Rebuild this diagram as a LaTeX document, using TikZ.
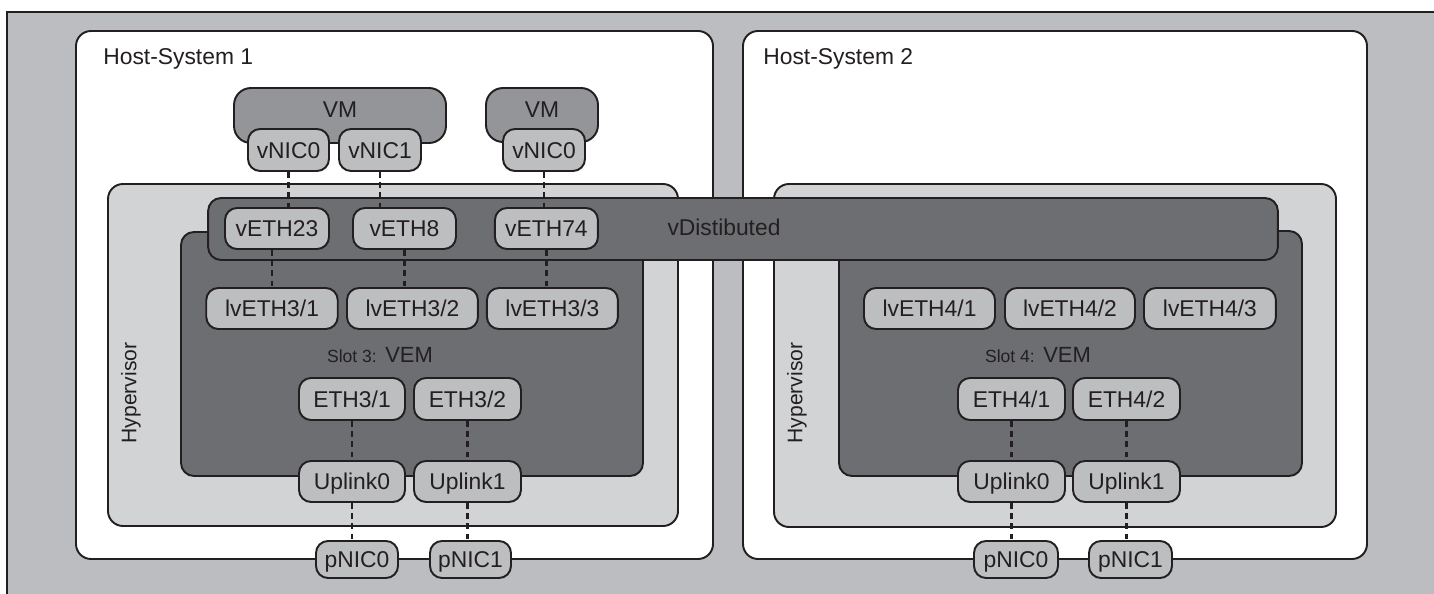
\documentclass[tikz,border=0pt]{standalone}
\usepackage{fontspec}
\setmainfont{Liberation Sans}
\usetikzlibrary{shapes,arrows}
\definecolor{framegray}{HTML}{BCBDC0}
\definecolor{hypgray}{HTML}{D1D3D4}
\definecolor{vemgray}{HTML}{6D6E71}
\definecolor{vmgray}{HTML}{939598}
\definecolor{portgray}{HTML}{BCBEC0}
\definecolor{ink}{HTML}{231F20}
\tikzstyle{host} = [draw=ink, fill=white, line width=1.1pt, rounded corners=0.3cm]
\tikzstyle{hyper} = [draw=ink, fill=hypgray, line width=1.1pt, rounded corners=0.3cm]
\tikzstyle{switch} = [rectangle, draw=ink, fill=vemgray, line width=1.1pt, rounded corners=0.26cm, inner sep=0pt]
\tikzstyle{vm} = [rectangle, draw=ink, fill=vmgray, line width=1.1pt, rounded corners=0.34cm, inner sep=0pt]
\tikzstyle{port} = [rectangle, draw=ink, fill=portgray, line width=1.1pt, rounded corners=0.24cm, inner sep=0pt, minimum height=0.82cm, text height=9.3pt, text depth=0pt, text=ink, font=\fontsize{13}{15}\selectfont]
\tikzstyle{txt} = [text=ink, inner sep=0pt, font=\fontsize{13}{15}\selectfont]
\tikzstyle{link} = [draw=ink, line width=1.2pt, dash pattern=on 3.2pt off 2.6pt]

\begin{document}
\begin{tikzpicture}[x=0.02cm, y=-0.02cm, node distance=2cm]
      \useasboundingbox (0,0) rectangle (1434,594);
      % Frame
      \fill[framegray] (7,12) rectangle (1434,594);
      \draw[ink, line width=1.1pt] (1434,12) -- (7,12) -- (7,594);

      % Hosts and hypervisors
      \draw[host] (76,31) rectangle (713,559);
      \draw[host] (743,31) rectangle (1367,559);
      \node[txt, anchor=base west] (host1) at (103,65) {Host-System 1};
      \node[txt, anchor=base west] (host2) at (763,65) {Host-System 2};
      \draw[hyper] (108,184) rectangle (678,526);
      \draw[hyper] (774,184) rectangle (1336,527);
      \node[txt, rotate=90, font=\fontsize{12}{14}\selectfont] (hyp1) at (131,393) {Hypervisor};
      \node[txt, rotate=90, font=\fontsize{12}{14}\selectfont] (hyp2) at (797,393) {Hypervisor};

      % VEMs and distributed switch
      \draw[switch] (181,232) rectangle (643,476);
      \draw[switch] (839,231) rectangle (1302,476);
      \node[switch, minimum width=21.4cm, minimum height=1.24cm] (vdist) at (743,229) {};
      \node[txt] (vdistname) at (724,227) {vDistibuted};
      \node[txt] (slot3) at (380,355) {{\fontsize{10}{12}\selectfont Slot 3:} {\fontsize{12.5}{14}\selectfont VEM}};
      \node[txt] (slot4) at (1038,355) {{\fontsize{10}{12}\selectfont Slot 4:} {\fontsize{12.5}{14}\selectfont VEM}};

      % VMs
      \node[vm, minimum width=4.24cm, minimum height=1.1cm] (vm1) at (340,115.5) {};
      \node[vm, minimum width=2.24cm, minimum height=1.08cm] (vm2) at (542,115) {};
      \node[txt] (vm1name) at (340,110) {VM};
      \node[txt] (vm2name) at (542,110) {VM};
      \node[port, minimum width=1.62cm, minimum height=0.84cm] (vnic10) at (288.5,150) {vNIC0};
      \node[port, minimum width=1.64cm, minimum height=0.84cm, right of=vnic10, node distance=1.83cm] (vnic11) {vNIC1};
      \node[port, minimum width=1.64cm, minimum height=0.84cm] (vnic20) at (544,150) {vNIC0};

      % Host 1 ports
      \node[port, minimum width=2.08cm] (veth23) at (277,228.5) {vETH23};
      \node[port, minimum width=2.06cm, right of=veth23, node distance=2.55cm] (veth8) {vETH8};
      \node[port, minimum width=2.06cm, right of=veth8, node distance=2.84cm] (veth74) {vETH74};
      \node[port, minimum width=2.63cm] (lveth31) at (272,308.5) {lvETH3/1};
      \node[port, minimum width=2.62cm, right of=lveth31, node distance=2.81cm] (lveth32) {lvETH3/2};
      \node[port, minimum width=2.62cm, right of=lveth32, node distance=2.80cm] (lveth33) {lvETH3/3};
      \node[port, minimum width=2.12cm, minimum height=0.84cm] (eth31) at (352,399) {ETH3/1};
      \node[port, minimum width=2.14cm, minimum height=0.84cm, right of=eth31, node distance=2.31cm] (eth32) {ETH3/2};
      \node[port, minimum width=2.12cm, below of=eth31, node distance=1.65cm] (up10) {Uplink0};
      \node[port, minimum width=2.14cm, below of=eth32, node distance=1.65cm] (up11) {Uplink1};
      \node[port, minimum width=1.64cm, minimum height=0.74cm] (pnic10) at (357,559.5) {pNIC0};
      \node[port, minimum width=1.62cm, minimum height=0.74cm, right of=pnic10, node distance=2.27cm] (pnic11) {pNIC1};

      % Host 2 ports
      \node[port, minimum width=2.62cm] (lveth41) at (929.5,308.5) {lvETH4/1};
      \node[port, minimum width=2.6cm, right of=lveth41, node distance=2.81cm] (lveth42) {lvETH4/2};
      \node[port, minimum width=2.64cm, right of=lveth42, node distance=2.80cm] (lveth43) {lvETH4/3};
      \node[port, minimum width=2.14cm, minimum height=0.84cm] (eth41) at (1011.5,399) {ETH4/1};
      \node[port, minimum width=2.14cm, minimum height=0.84cm, right of=eth41, node distance=2.3cm] (eth42) {ETH4/2};
      \node[port, minimum width=2.14cm, below of=eth41, node distance=1.65cm] (up20) {Uplink0};
      \node[port, minimum width=2.14cm, below of=eth42, node distance=1.65cm] (up21) {Uplink1};
      \node[port, minimum width=1.68cm, minimum height=0.74cm] (pnic20) at (1016,559.5) {pNIC0};
      \node[port, minimum width=1.66cm, minimum height=0.74cm, right of=pnic20, node distance=2.29cm] (pnic21) {pNIC1};

      % Draw links
      \path[link] (vnic10.south) -- (vnic10.south |- veth23.north);
      \path[link] (vnic11.south) -- (vnic11.south |- veth8.north);
      \path[link] (vnic20.south) -- (vnic20.south |- veth74.north);
      \path[link] (lveth31.north |- veth23.south) -- (lveth31.north);
      \path[link] (veth8.south) -- (veth8.south |- lveth32.north);
      \path[link] (veth74.south) -- (veth74.south |- lveth33.north);
      \path[link] (eth31) -- (up10);
      \path[link] (eth32) -- (up11);
      \path[link] (up10.south) -- (up10.south |- pnic10.north);
      \path[link] (up11.south) -- (up11.south |- pnic11.north);
      \path[link] (eth41) -- (up20);
      \path[link] (eth42) -- (up21);
      \path[link] (up20.south) -- (up20.south |- pnic20.north);
      \path[link] (up21.south) -- (up21.south |- pnic21.north);
\end{tikzpicture}
\end{document}
